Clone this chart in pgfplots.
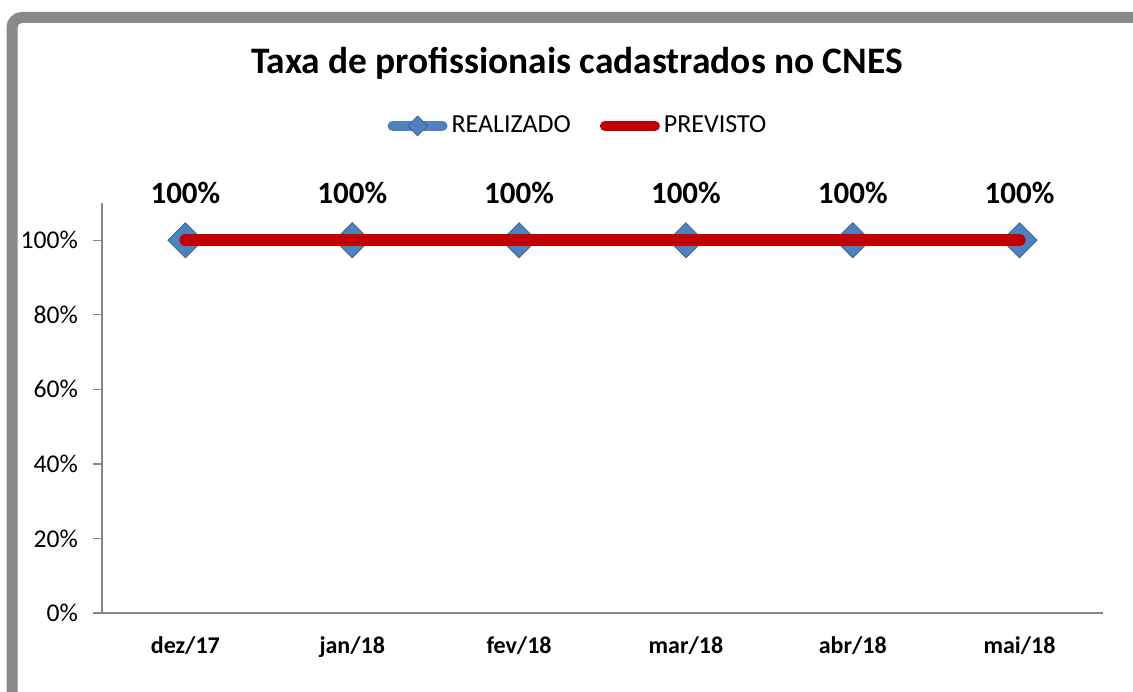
\documentclass[border=0pt]{standalone}
\usepackage{fontspec}
\setmainfont{Carlito}
\usepackage{pgfplots}
\pgfplotsset{compat=1.18}
\definecolor{frameGray}{HTML}{898989}
\definecolor{axGray}{HTML}{868686}
\definecolor{blueM}{HTML}{4F81BD}
\definecolor{blueD}{HTML}{3A6597}
\definecolor{redL}{HTML}{C00000}
\pgfplotsset{
  realleg/.style={legend image code/.code={
    \draw[##1, mark=none, line cap=round] (2.5pt,0pt) -- (27.5pt,0pt);
    \path[##1, mark size=3.5pt] plot coordinates {(15pt,0pt)};}},
  prevleg/.style={legend image code/.code={
    \draw[##1, line width=5pt, line cap=round] (2.5pt,0pt) -- (27.5pt,0pt);}},
  geom/.style={at={(51pt,39pt)}, anchor=south west, scale only axis,
    width=500.5pt, height=205pt,
    xmin=-0.5, xmax=5.5, ymin=0, ymax=110, clip=false},
}
\begin{document}
\begin{tikzpicture}
\path[use as bounding box] (0,0) rectangle (566.5pt,345.5pt);
\begin{scope}
\clip (0,0) rectangle (566.5pt,345.5pt);
\draw[line width=5.5pt, color=frameGray, rounded corners=5pt] (6pt,-20pt) -- (6pt,336.75pt) -- (600pt,336.75pt);
\end{scope}
\node[font=\bfseries\fontsize{18.7}{22}\selectfont, anchor=base] at (288.5pt,308.5pt) {Taxa de profissionais cadastrados no CNES};
\begin{axis}[
  geom,
  xtick={0,...,5},
  xticklabels={dez/17,jan/18,fev/18,mar/18,abr/18,mai/18},
  ytick={0,20,...,100},
  yticklabel={\pgfmathprintnumber{\tick}\%},
  /pgf/number format/assume math mode=true,
  axis x line*=bottom, axis y line*=left,
  axis line style={axGray, line width=0.6pt, -},
  xtick style={draw=none},
  ytick style={axGray, line width=0.6pt},
  tick align=outside, major tick length=4.5pt,
  yticklabel style={font=\fontsize{12.8}{14}\selectfont, anchor=east, xshift=-4pt},
  xticklabel style={font=\bfseries\fontsize{12}{14}\selectfont, anchor=base, yshift=-15.5pt},
]
\addplot[color=blueM, line width=5pt, line cap=round,
  mark=square*, mark size=6.2pt,
  mark options={rotate=45, fill=blueM, draw=blueD, line width=0.4pt},
  nodes near coords={\pgfmathprintnumber{\pgfplotspointmeta}\%},
  point meta=y,
  every node near coord/.append style={font=\bfseries\fontsize{15.5}{18}\selectfont, anchor=center, yshift=23.5pt, color=black},
] coordinates {(0,100) (1,100) (2,100) (3,100) (4,100) (5,100)};
\end{axis}
\begin{axis}[
  geom, hide axis,
  legend style={at={(0.4765,1.188)}, anchor=center, draw=none, fill=none,
    legend columns=2, font=\fontsize{13}{15}\selectfont, inner sep=0pt,
    /tikz/every even column/.append style={column sep=12.5pt}},
  legend cell align=left,
]
\addlegendimage{color=blueM, line width=5pt, line cap=round,
  mark=square*, mark size=6.2pt,
  mark options={rotate=45, fill=blueM, draw=blueD, line width=0.4pt}, realleg}
\addlegendentry{REALIZADO}
\addplot[color=redL, line width=6pt, line cap=round, mark=none, prevleg
] coordinates {(0,100) (1,100) (2,100) (3,100) (4,100) (5,100)};
\addlegendentry{PREVISTO}
\end{axis}
\end{tikzpicture}
\end{document}
